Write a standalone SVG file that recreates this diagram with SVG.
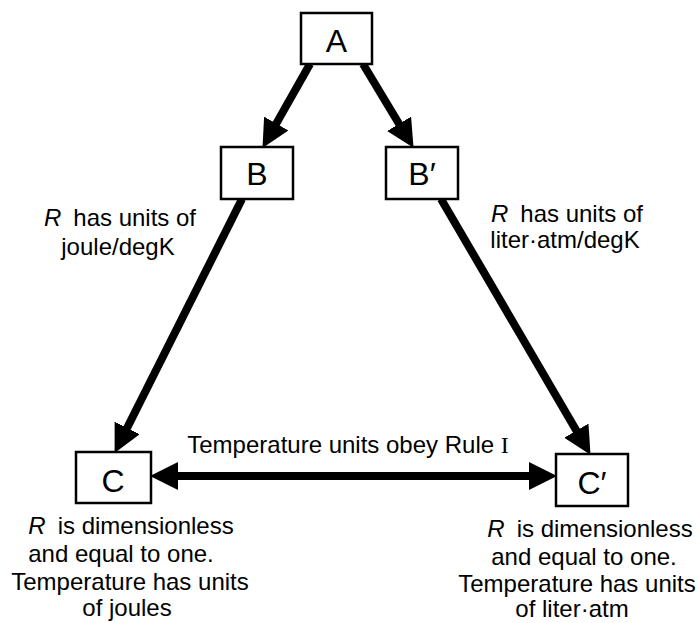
<svg xmlns="http://www.w3.org/2000/svg" width="700" height="623" viewBox="0 0 700 623">
  <style>
    .box { fill: #fff; stroke: #000; stroke-width: 2.5; }
    .lbl { font-family: "Liberation Sans", Arial, sans-serif; font-size: 32px; fill: #000; text-anchor: middle; }
    .txt { font-family: "Liberation Sans", Arial, sans-serif; font-size: 24px; fill: #000; text-anchor: middle; }
    .it { font-style: italic; }
    .serif { font-family: "Liberation Serif", "Times New Roman", serif; }
    .edge { stroke: #000; stroke-width: 8; fill: none; marker-end: url(#head); }
  </style>
  <defs>
    <marker id="head" viewBox="0 -14 28 28" refX="1" refY="0" markerWidth="28" markerHeight="28" markerUnits="userSpaceOnUse" orient="auto-start-reverse">
      <path d="M0,-14 L28,0 L0,14 z" fill="#000"/>
    </marker>
  </defs>

  <!-- connectors: each line stops at the arrowhead base, the marker adds the head -->
  <g id="connectors">
    <line class="edge" x1="310" y1="64" x2="275.8" y2="124.4"/>
    <line class="edge" x1="363" y1="64" x2="399.6" y2="124.7"/>
    <line class="edge" x1="242" y1="199" x2="126.7" y2="428.8"/>
    <line class="edge" x1="441" y1="199" x2="576.9" y2="431.5"/>
    <line class="edge" x1="177" y1="476" x2="530" y2="476" style="marker-start: url(#head)"/>
  </g>

  <g id="node-A">
    <rect class="box" x="301" y="13" width="71" height="51"/>
    <text class="lbl" x="336.5" y="52">A</text>
  </g>
  <g id="node-B">
    <rect class="box" x="221" y="147" width="72" height="52"/>
    <text class="lbl" x="257" y="185">B</text>
  </g>
  <g id="node-B-prime">
    <rect class="box" x="386" y="147" width="72" height="52"/>
    <text class="lbl" x="422" y="185">B′</text>
  </g>
  <g id="node-C">
    <rect class="box" x="76" y="452" width="75" height="51"/>
    <text class="lbl" x="113" y="492">C</text>
  </g>
  <g id="node-C-prime">
    <rect class="box" x="556" y="454" width="72" height="52"/>
    <text class="lbl" x="592" y="494">C′</text>
  </g>

  <g id="label-left-edge">
    <text class="txt" x="120" y="226"><tspan class="it">R</tspan><tspan dx="12">has units of</tspan></text>
    <text class="txt" x="118" y="255">joule/degK</text>
  </g>
  <g id="label-right-edge">
    <text class="txt" x="567" y="222"><tspan class="it">R</tspan><tspan dx="12">has units of</tspan></text>
    <text class="txt" x="565" y="248">liter·atm/degK</text>
  </g>
  <g id="label-bottom-edge">
    <text class="txt" x="348" y="453">Temperature units obey Rule <tspan class="serif">I</tspan></text>
  </g>
  <g id="label-C">
    <text class="txt" x="131" y="534"><tspan class="it">R</tspan><tspan dx="12">is dimensionless</tspan></text>
    <text class="txt" x="121" y="562">and equal to one.</text>
    <text class="txt" x="130" y="590">Temperature has units</text>
    <text class="txt" x="127" y="616">of  joules</text>
  </g>
  <g id="label-C-prime">
    <text class="txt" x="590" y="537"><tspan class="it">R</tspan><tspan dx="12">is dimensionless</tspan></text>
    <text class="txt" x="584" y="565">and equal to one.</text>
    <text class="txt" x="577" y="592">Temperature has units</text>
    <text class="txt" x="572" y="617">of liter·atm</text>
  </g>
</svg>
